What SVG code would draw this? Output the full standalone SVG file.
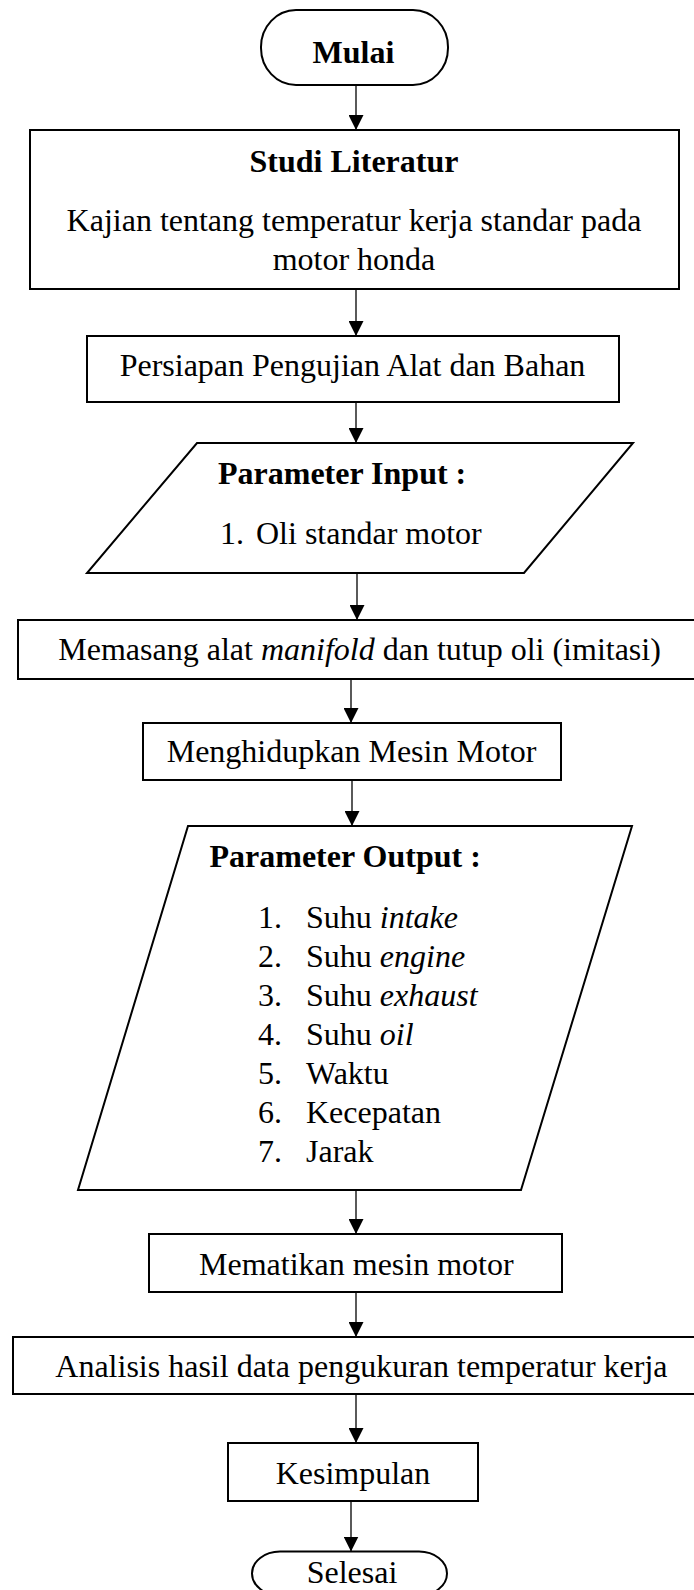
<svg xmlns="http://www.w3.org/2000/svg" width="694" height="1590" viewBox="0 0 694 1590">
  <style>
    .shape { fill: #fff; stroke: #000; stroke-width: 2; }
    .link { fill: none; stroke: #000; stroke-width: 1.3; }
    text { font-family: "Liberation Serif", "Times New Roman", serif; font-size: 32px; fill: #000; }
    .b { font-weight: bold; }
    .c { text-anchor: middle; }
    .i { font-style: italic; }
  </style>
  <defs>
    <marker id="arrow" viewBox="0 0 15 15" refX="15" refY="7.5" markerWidth="15" markerHeight="15" markerUnits="userSpaceOnUse" orient="auto">
      <path d="M0,0 L15,7.5 L0,15 Z" fill="#000"/>
    </marker>
  </defs>

  <rect width="694" height="1590" fill="#fff"/>

  <!-- connectors -->
  <g id="connectors">
    <line class="link" x1="356" y1="85" x2="356" y2="130" marker-end="url(#arrow)"/>
    <line class="link" x1="356" y1="289" x2="356" y2="336" marker-end="url(#arrow)"/>
    <line class="link" x1="356" y1="402" x2="356" y2="443" marker-end="url(#arrow)"/>
    <line class="link" x1="357" y1="573" x2="357" y2="620" marker-end="url(#arrow)"/>
    <line class="link" x1="351" y1="679" x2="351" y2="723" marker-end="url(#arrow)"/>
    <line class="link" x1="352" y1="780" x2="352" y2="826" marker-end="url(#arrow)"/>
    <line class="link" x1="356" y1="1190" x2="356" y2="1234" marker-end="url(#arrow)"/>
    <line class="link" x1="356" y1="1292" x2="356" y2="1337" marker-end="url(#arrow)"/>
    <line class="link" x1="356" y1="1394" x2="356" y2="1443" marker-end="url(#arrow)"/>
    <line class="link" x1="351" y1="1501" x2="351" y2="1551.5" marker-end="url(#arrow)"/>
  </g>

  <g id="mulai">
    <rect class="shape" x="261" y="10" width="187" height="75" rx="35" ry="37"/>
    <text class="b c" x="353.5" y="63">Mulai</text>
  </g>

  <g id="studi-literatur">
    <rect class="shape" x="30" y="130" width="649" height="159"/>
    <text class="b c" x="354" y="171.5">Studi Literatur</text>
    <text class="c" x="354" y="230.5">Kajian tentang temperatur kerja standar pada</text>
    <text class="c" x="354" y="270">motor honda</text>
  </g>

  <g id="persiapan">
    <rect class="shape" x="87" y="336" width="532" height="66"/>
    <text class="c" x="352.5" y="376">Persiapan Pengujian Alat dan Bahan</text>
  </g>

  <g id="parameter-input">
    <polygon class="shape" points="197,443 633,443 524,573 87,573"/>
    <text class="b" x="218" y="483.5">Parameter Input :</text>
    <text x="220" y="544">1.</text>
    <text x="256" y="544">Oli standar motor</text>
  </g>

  <g id="memasang">
    <rect class="shape" x="18" y="620" width="678" height="59"/>
    <text x="58.3" y="659.5">Memasang alat <tspan class="i">manifold</tspan> dan tutup oli (imitasi)</text>
  </g>

  <g id="menghidupkan">
    <rect class="shape" x="143" y="723" width="418" height="57"/>
    <text x="166.7" y="762">Menghidupkan Mesin Motor</text>
  </g>

  <g id="parameter-output">
    <polygon class="shape" points="188,826 632,826 521,1190 78,1190"/>
    <text class="b" x="209.5" y="867">Parameter Output :</text>
    <text x="258" y="927.7">1.</text>
    <text x="306" y="927.7">Suhu <tspan class="i">intake</tspan></text>
    <text x="258" y="966.8">2.</text>
    <text x="306" y="966.8">Suhu <tspan class="i">engine</tspan></text>
    <text x="258" y="1005.9">3.</text>
    <text x="306" y="1005.9">Suhu <tspan class="i">exhaust</tspan></text>
    <text x="258" y="1045">4.</text>
    <text x="306" y="1045">Suhu <tspan class="i">oil</tspan></text>
    <text x="258" y="1084">5.</text>
    <text x="306" y="1084">Waktu</text>
    <text x="258" y="1123">6.</text>
    <text x="306" y="1123">Kecepatan</text>
    <text x="258" y="1162">7.</text>
    <text x="306" y="1162">Jarak</text>
  </g>

  <g id="mematikan">
    <rect class="shape" x="149" y="1234" width="413" height="58"/>
    <text x="199" y="1274.5">Mematikan mesin motor</text>
  </g>

  <g id="analisis">
    <rect class="shape" x="13" y="1337" width="690" height="57"/>
    <text x="55.3" y="1377">Analisis hasil data pengukuran temperatur kerja</text>
  </g>

  <g id="kesimpulan">
    <rect class="shape" x="228" y="1443" width="250" height="58"/>
    <text class="c" x="353" y="1483.5">Kesimpulan</text>
  </g>

  <g id="selesai">
    <rect class="shape" x="252" y="1551.5" width="195" height="44" rx="28" ry="22"/>
    <text class="c" x="352" y="1583">Selesai</text>
  </g>
</svg>
